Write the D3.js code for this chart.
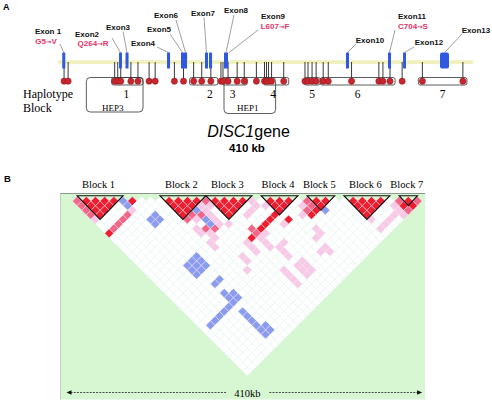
<!DOCTYPE html>
<html><head><meta charset="utf-8">
<script src="https://cdn.jsdelivr.net/npm/d3@7"></script>
<style>body{margin:0;background:#fff}svg{display:block}</style>
</head><body><svg id="c" width="492" height="404"></svg>
<script>
// ================= DATA =================
// Panel A : gene map (positions in kb along the 410 kb DISC1 gene)
const geneLengthKb = 410;
const exonRectsKb = [[4.2,7.2],[60.3,63.2],[66.7,69.7],[107.7,110.7],[121.5,127.5],[145.2,148.2],[149.2,152.2],[164,168],[284.5,287.5],[326,329],[340.9,343.8],[377.4,386.3]];
const exonLabels = ["Exon 1","Exon2","Exon3","Exon4","Exon5","Exon6","Exon7","Exon8","Exon9","Exon10","Exon11","Exon12","Exon13"];
const exonLabelTargetKb = [5.7,61.7,68.2,109.2,123,126,146.7,166,169,286,327.5,342.3,382];
const mutationLabels = ["G5\u2192V","Q264\u2192R","L607\u2192F","C704\u2192S"];
const snpKb = [6,10,56,59,62,72,79,90,96,115,124,134,142,151,161,163,168,177,184,196,204,206,208,211,223,244,247,251,255,262,267,290,317,321,328,340,360,400];
const hapBlockNames = ["1","2","3","4","5","6","7"];
const hapBlockKb = [[53,84],[130,158],[162,187],[203,228],[243,259],[259,333],[356,404]];
const hepNames = ["HEP3","HEP1"];
const hepKb = [[28,84],[164,215]];

// Panel B : pairwise LD (marker indices)
const markerCount = 39;
const ldBlockNames = ["Block 1","Block 2","Block 3","Block 4","Block 5","Block 6","Block 7"];
const ldBlocks = [[1,5],[10,14],[15,19],[21,24],[26,28],[30,34],[36,37]];
const ldStrong = [[0,8],[6,7],[20,24],[19,24],[18,24],[17,24],[15,24],[21,26],[24,28],[25,28],[36,38],[35,37]];
const ldMedium = [[0,1],[0,2],[0,3],[0,4],[1,8],[2,8],[3,8],[4,8],[12,16],[14,15],[11,15],[10,15],[11,18],[12,19],[16,24],[16,23],[25,26],[24,27],[25,27],[35,36],[37,38],[35,38]];
const ldWeak = [[0,5],[5,8],[13,15],[14,16],[11,16],[13,16],[13,17],[10,17],[10,18],[11,19],[13,18],[10,20],[11,20],[10,21],[13,19],[14,20],[19,20],[19,21],[18,21],[17,21],[20,22],[12,25],[12,26],[11,27],[14,24],[14,25],[14,26],[16,25],[17,25],[20,26],[23,27],[16,26],[16,27],[17,28],[18,28],[17,29],[17,30],[17,32],[18,32],[17,33],[18,33],[17,34],[18,34],[15,31],[15,32],[15,33],[15,34],[23,30],[23,31],[22,31],[22,33],[22,34],[21,33],[24,26],[30,35],[30,37],[34,36],[33,37],[32,37],[31,37],[34,37],[34,38]];
const ldBlue = [[5,6],[5,7],[6,11],[7,11],[6,12],[7,12],[12,15],[12,17],[12,18],[5,20],[6,20],[7,20],[5,21],[6,21],[7,21],[5,22],[6,22],[7,22],[6,25],[7,25],[6,27],[6,28],[7,28],[7,29],[1,29],[2,29],[3,29],[4,29],[5,29],[6,29],[6,31],[6,32],[6,33],[6,34],[6,35],[7,35],[6,36],[7,36],[26,29]];
const spanLabel = "410kb";

// ================= DRAW =================
const SANS = "'Liberation Sans', Arial, sans-serif";
const SERIF = "'Liberation Serif', 'Times New Roman', serif";
const svg = d3.select("#c");
svg.append("rect").attr("width",492).attr("height",404).attr("fill","#fff");

svg.append("text").attr("x",3).attr("y",10).text("A")
  .attr("font-family",SANS).attr("font-weight","bold").attr("font-size",9);
svg.append("text").attr("x",4).attr("y",182).text("B")
  .attr("font-family",SANS).attr("font-weight","bold").attr("font-size",9.5);

// ---------- Panel A ----------
const gA = svg.append("g");
const xA = d3.scaleLinear().domain([0, geneLengthKb]).range([58, 473]);
const exonTop = 52.5, exonBot = 68.5;

gA.append("rect").attr("x", xA(0)).attr("y", 60.3).attr("width", xA(geneLengthKb)-xA(0)).attr("height", 3.6).attr("fill", "#f0f0bd");

const labelLayout = [
  {x:48,y:34,lx:60,ly:44},{x:87,y:36.5,lx:112,ly:38},{x:118,y:30,lx:123,ly:31.5},
  {x:143,y:45.5,lx:157,ly:47},{x:159,y:32,lx:170,ly:34},{x:166,y:18,lx:176,ly:20},
  {x:203,y:15.5,lx:204,ly:17.5},{x:236,y:13,lx:234,ly:15},{x:273,y:19,lx:258,ly:30},
  {x:370,y:43,lx:356,ly:44},{x:412,y:19,lx:395,ly:30},{x:429,y:45,lx:414,ly:47},{x:476,y:33,lx:462,ly:34}
];
gA.selectAll("line.lead").data(exonLabels).join("line")
  .attr("x1",(d,i)=>labelLayout[i].lx).attr("y1",(d,i)=>labelLayout[i].ly)
  .attr("x2",(d,i)=>xA(exonLabelTargetKb[i])).attr("y2",exonTop)
  .attr("stroke","#777").attr("stroke-width",0.7);
gA.selectAll("text.ex").data(exonLabels).join("text")
  .attr("x",(d,i)=>labelLayout[i].x).attr("y",(d,i)=>labelLayout[i].y)
  .attr("text-anchor","middle").attr("font-family",SANS).attr("font-weight","bold")
  .attr("font-size",8).attr("fill","#111").text(d=>d);
const mutLayout = [{x:46,y:44},{x:93,y:45.5},{x:275,y:29},{x:413,y:29}];
gA.selectAll("text.mut").data(mutationLabels).join("text")
  .attr("x",(d,i)=>mutLayout[i].x).attr("y",(d,i)=>mutLayout[i].y)
  .attr("text-anchor","middle").attr("font-family",SANS).attr("font-weight","bold")
  .attr("font-size",8).attr("fill","#e2336b")
  .each(function(d){
    const parts = d.split("\u2192");
    const t = d3.select(this);
    t.append("tspan").text(parts[0]);
    t.append("tspan").attr("font-family","'DejaVu Sans', sans-serif").attr("font-size",6.5).attr("font-weight","bold").text("\u2192");
    t.append("tspan").text(parts[1]);
  });

gA.selectAll("line.stem").data(snpKb).join("line")
  .attr("x1",d=>xA(d)).attr("x2",d=>xA(d)).attr("y1",62).attr("y2",80)
  .attr("stroke","#222").attr("stroke-width",0.9);
gA.selectAll("rect.exon").data(exonRectsKb).join("rect")
  .attr("x",d=>xA(d[0])).attr("width",d=>xA(d[1])-xA(d[0])).attr("y",exonTop).attr("height",exonBot-exonTop)
  .attr("rx",(d)=> (d[1]-d[0])>6 ? 2 : 0.5).attr("fill","#3158e0");
gA.selectAll("rect.hep").data(hepKb).join("rect")
  .attr("x",d=>xA(d[0])).attr("width",d=>xA(d[1])-xA(d[0])).attr("y",77.5).attr("height",(d,i)=>i===0?34.5:36)
  .attr("rx",4).attr("fill","none").attr("stroke","#333").attr("stroke-width",0.8);
gA.selectAll("rect.hb").data(hapBlockKb).join("rect")
  .attr("x",d=>xA(d[0])).attr("width",d=>xA(d[1])-xA(d[0])).attr("y",77.5).attr("height",7.5)
  .attr("rx",2).attr("fill","none").attr("stroke","#333").attr("stroke-width",0.8);
gA.selectAll("circle.snp").data(snpKb).join("circle")
  .attr("cx",d=>xA(d)).attr("cy",81.2).attr("r",3.1)
  .attr("fill","#c9252f").attr("stroke","#8a1a1a").attr("stroke-width",0.5);
const numShift = [-1,6,-2,-3,0,0,0];
gA.selectAll("text.hbn").data(hapBlockNames).join("text")
  .attr("x",(d,i)=>xA((hapBlockKb[i][0]+hapBlockKb[i][1])/2)+numShift[i])
  .attr("y",98).attr("text-anchor","middle").attr("font-family",SERIF).attr("font-size",11.5).text(d=>d);
gA.selectAll("text.hepn").data(hepNames).join("text")
  .attr("x",(d,i)=>xA((hepKb[i][0]+hepKb[i][1])/2)-2).attr("y",110.5)
  .attr("text-anchor","middle").attr("font-family",SERIF).attr("font-size",9).text(d=>d);
gA.append("text").attr("x",23).attr("y",98).attr("font-family",SERIF).attr("font-size",12).text("Haplotype");
gA.append("text").attr("x",23).attr("y",112).attr("font-family",SERIF).attr("font-size",12).text("Block");
const gt = gA.append("text").attr("x",248.5).attr("y",137).attr("text-anchor","middle")
  .attr("font-family",SANS).attr("font-size",16);
gt.append("tspan").attr("font-style","italic").text("DISC1");
gt.append("tspan").text("gene");
gA.append("text").attr("x",247).attr("y",152).attr("text-anchor","middle")
  .attr("font-family",SANS).attr("font-weight","bold").attr("font-size",11.5).text("410 kb");

// ---------- Panel B ----------
const gB = svg.append("g");
const N = markerCount;
const xB = d3.scaleLinear().domain([0, N-1]).range([72.5, 72.5 + (N-1)*9.2]);
const yB = d3.scaleLinear().domain([0, N-1]).range([196.5, 196.5 + (N-1)*4.6]);
const h = (xB(1)-xB(0))/2;

gB.append("rect").attr("x",60).attr("y",193).attr("width",365).attr("height",206.5).attr("fill","#d7f7d3");
gB.append("line").attr("x1",60).attr("x2",425).attr("y1",193.5).attr("y2",193.5).attr("stroke","#8d968d").attr("stroke-width",1);
gB.append("line").attr("x1",60.5).attr("x2",60.5).attr("y1",193).attr("y2",399.5).attr("stroke","#b7c7b7").attr("stroke-width",0.8);

const colorOf = new Map();
const C = {R:"#ee1d30", M:"#f2668a", L:"#f9c9e8", B:"#8a9bf0"};
ldBlocks.forEach(([a,b])=>{ for(let i=a;i<=b;i++) for(let j=i+1;j<=b;j++) colorOf.set(i+"-"+j, C.R); });
ldWeak.forEach(([i,j])=>colorOf.set(i+"-"+j, C.L));
ldMedium.forEach(([i,j])=>colorOf.set(i+"-"+j, C.M));
ldStrong.forEach(([i,j])=>colorOf.set(i+"-"+j, C.R));
ldBlue.forEach(([i,j])=>colorOf.set(i+"-"+j, C.B));

const cells = [];
for (let i=0;i<N;i++) for (let j=i+1;j<N;j++) cells.push({i,j,c:colorOf.get(i+"-"+j)||"#ffffff"});
gB.selectAll("path.cell").data(cells).join("path")
  .attr("d",d=>{ const cx=xB((d.i+d.j)/2), cy=yB(d.j-d.i);
    return `M${cx},${cy-h}L${cx+h},${cy}L${cx},${cy+h}L${cx-h},${cy}Z`; })
  .attr("fill",d=>d.c).attr("stroke",d=>d.c==="#ffffff"?"#e3f3f3":"#f7e6ee").attr("stroke-width",0.5);

gB.selectAll("path.blk").data(ldBlocks).join("path")
  .attr("d",([a,b])=>{ const l=xB(a)-h, r=xB(b)+h, t=yB(0)-0.8, ax=xB((a+b)/2), ay=yB(0)+(b-a+1)*h;
    return `M${l},${t}L${r},${t}L${ax},${ay}Z`; })
  .attr("fill","none").attr("stroke","#111").attr("stroke-width",1.1).attr("stroke-linejoin","miter");

gB.selectAll("text.bl").data(ldBlockNames).join("text")
  .attr("x",(d,i)=>xB((ldBlocks[i][0]+ldBlocks[i][1])/2)-1.5).attr("y",188)
  .attr("text-anchor","middle").attr("font-family",SERIF).attr("font-size",10.5).text(d=>d);

const ay = 392.5, lx = xB(0)-6, rx = xB(N-1);
const mid = xB((N-1)/2);
gB.append("line").attr("x1",lx+4).attr("x2",mid-20).attr("y1",ay).attr("y2",ay).attr("stroke","#222").attr("stroke-width",0.8).attr("stroke-dasharray","2,1.2");
gB.append("line").attr("x1",mid+22).attr("x2",rx-4).attr("y1",ay).attr("y2",ay).attr("stroke","#222").attr("stroke-width",0.8).attr("stroke-dasharray","2,1.2");
gB.append("path").attr("d",`M${lx},${ay}L${lx+5},${ay-2.2}L${lx+5},${ay+2.2}Z`).attr("fill","#111");
gB.append("path").attr("d",`M${rx},${ay}L${rx-5},${ay-2.2}L${rx-5},${ay+2.2}Z`).attr("fill","#111");
gB.append("text").attr("x",mid).attr("y",396.5).attr("text-anchor","middle").attr("font-family",SERIF).attr("font-size",10.5).text(spanLabel);
</script></body></html>
